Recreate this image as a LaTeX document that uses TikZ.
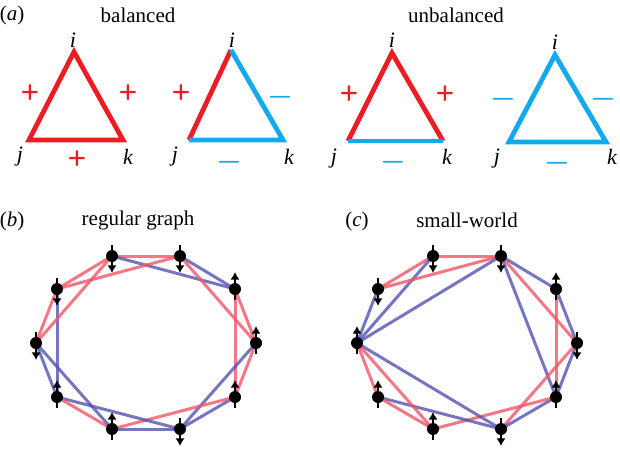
\documentclass[tikz,border=0pt]{standalone}
\usepackage{fontspec}
\setmainfont{Liberation Serif}
\usepackage{tikz}
\usetikzlibrary{arrows.meta, backgrounds}
\definecolor{SignRed}{HTML}{EC1C24}
\definecolor{SignBlue}{HTML}{12A9EE}
\definecolor{LinkRed}{HTML}{F25566}
\definecolor{LinkBlue}{HTML}{5454B0}
\tikzset{
    % Triangle styles
    posside/.style={
        draw=SignRed,
        line width=2.4pt,
        line join=miter
    },
    negside/.style={
        draw=SignBlue,
        line width=2.4pt,
        line join=miter
    },
    vertexlabel/.style={
        inner sep=0pt,
        font=\fontsize{11}{13}\selectfont\itshape
    },
    possign/.style={
        inner sep=0pt,
        text=SignRed,
        font=\fontsize{16.5}{18}\selectfont\bfseries
    },
    negsign/.style={
        inner sep=0pt,
        text=SignBlue,
        font=\fontsize{14}{16}\selectfont\boldmath
    },
    % Titles
    paneltag/.style={
        inner sep=0pt,
        font=\fontsize{10.5}{12}\selectfont
    },
    paneltitle/.style={
        inner sep=0pt,
        font=\fontsize{10.5}{12}\selectfont
    },
    % Graph styles
    spin/.style={
        circle,
        fill=black,
        minimum size=6pt,
        inner sep=0pt
    },
    poslink/.style={
        draw=LinkRed,
        draw opacity=0.8,
        line width=1.5pt
    },
    neglink/.style={
        draw=LinkBlue,
        draw opacity=0.8,
        line width=1.5pt
    },
    spinarrow/.style={
        -{Latex[length=3.8pt,width=4.6pt]},
        line width=1.35pt,
        black
    }
}
\begin{document}
\begin{tikzpicture}[x=0.5pt,y=-0.5pt]
    \useasboundingbox (0,0) rectangle (620,449);

    % Panel (a)
    \node[paneltag] (taga) at (12,15) {(\textit{a})};
    \node[paneltitle] (titlebal) at (138,15) {balanced};
    \node[paneltitle] (titleunbal) at (456,15) {unbalanced};

    % Corners
    \coordinate (Ai) at (74,52);
    \coordinate (Aj) at (29,140);
    \coordinate (Ak) at (123,140);
    \coordinate (Bi) at (231,50);
    \coordinate (Bj) at (189,140);
    \coordinate (Bk) at (283,140);
    \coordinate (Ci) at (392,53);
    \coordinate (Cj) at (348,141);
    \coordinate (Ck) at (443,141);
    \coordinate (Di) at (555,55);
    \coordinate (Dj) at (509,142);
    \coordinate (Dk) at (606,142);

    % Sides
    \draw[posside] (Aj) -- (Ai) -- (Ak) -- cycle;
    \draw[posside] (Bj) -- (Bi);
    \draw[negside] (Bi) -- (Bk) -- (Bj);
    \draw[posside] (Cj) -- (Ci) -- (Ck);
    \draw[negside] (Cj) -- (Ck);
    \draw[negside] (Dj) -- (Di) -- (Dk) -- cycle;

    % Vertex labels
    \node[vertexlabel] (Ali) at (73,40) {i};
    \node[vertexlabel] (Alj) at (20,157) {j};
    \node[vertexlabel] (Alk) at (128,157) {k};
    \node[vertexlabel] (Bli) at (232,40) {i};
    \node[vertexlabel] (Blj) at (175,157) {j};
    \node[vertexlabel] (Blk) at (289,157) {k};
    \node[vertexlabel] (Cli) at (392,40) {i};
    \node[vertexlabel] (Clj) at (334,159) {j};
    \node[vertexlabel] (Clk) at (447,157) {k};
    \node[vertexlabel] (Dli) at (555,42) {i};
    \node[vertexlabel] (Dlj) at (497,159) {j};
    \node[vertexlabel] (Dlk) at (612,157) {k};

    % Signs
    \node[possign] (Aij) at (30,94) {+};
    \node[possign] (Aik) at (128,94) {+};
    \node[possign] (Ajk) at (77,160) {+};
    \node[possign] (Bij) at (181,94) {+};
    \node[negsign] (Bik) at (280,97) {$-$};
    \node[negsign] (Bjk) at (229,162) {$-$};
    \node[possign] (Cij) at (349,95) {+};
    \node[possign] (Cik) at (445,95) {+};
    \node[negsign] (Cjk) at (393,162) {$-$};
    \node[negsign] (Dij) at (503,99) {$-$};
    \node[negsign] (Dik) at (603,99) {$-$};
    \node[negsign] (Djk) at (557,163) {$-$};

    % Panel (b)
    \node[paneltag] (tagb) at (12,221) {(\textit{b})};
    \node[paneltitle] (titlereg) at (138,220) {regular graph};

    \node[spin] (b1) at (112,256) {};
    \node[spin] (b2) at (180,256) {};
    \node[spin] (b3) at (235,289) {};
    \node[spin] (b4) at (256,343) {};
    \node[spin] (b5) at (235,397) {};
    \node[spin] (b6) at (180,429) {};
    \node[spin] (b7) at (112,429) {};
    \node[spin] (b8) at (57,397) {};
    \node[spin] (b9) at (36,343) {};
    \node[spin] (b10) at (57,289) {};

    % Panel (c)
    \node[paneltag] (tagc) at (357,221) {(\textit{c})};
    \node[paneltitle] (titlesw) at (467,220) {small-world};

    \node[spin] (c1) at (433,256) {};
    \node[spin] (c2) at (501,256) {};
    \node[spin] (c3) at (556,289) {};
    \node[spin] (c4) at (577,343) {};
    \node[spin] (c5) at (556,397) {};
    \node[spin] (c6) at (501,429) {};
    \node[spin] (c7) at (433,429) {};
    \node[spin] (c8) at (378,397) {};
    \node[spin] (c9) at (357,343) {};
    \node[spin] (c10) at (378,289) {};

    \begin{scope}[on background layer]
        % Links of (b)
        \draw[poslink] (b1.center) -- (b2.center);
        \draw[neglink] (b1.center) -- (b3.center);
        \draw[neglink] (b2.center) -- (b3.center);
        \draw[poslink] (b2.center) -- (b4.center);
        \draw[poslink] (b3.center) -- (b4.center);
        \draw[poslink] (b3.center) -- (b5.center);
        \draw[poslink] (b4.center) -- (b5.center);
        \draw[neglink] (b4.center) -- (b6.center);
        \draw[neglink] (b5.center) -- (b6.center);
        \draw[poslink] (b5.center) -- (b7.center);
        \draw[neglink] (b6.center) -- (b7.center);
        \draw[neglink] (b6.center) -- (b8.center);
        \draw[poslink] (b7.center) -- (b8.center);
        \draw[neglink] (b7.center) -- (b9.center);
        \draw[neglink] (b8.center) -- (b9.center);
        \draw[neglink] (b8.center) -- (b10.center);
        \draw[poslink] (b9.center) -- (b10.center);
        \draw[poslink] (b9.center) -- (b1.center);
        \draw[poslink] (b10.center) -- (b1.center);
        \draw[poslink] (b10.center) -- (b2.center);

        % Links of (c)
        \draw[poslink] (c1.center) -- (c2.center);
        \draw[poslink] (c1.center) -- (c10.center);
        \draw[neglink] (c1.center) -- (c9.center);
        \draw[poslink] (c2.center) -- (c10.center);
        \draw[neglink] (c2.center) -- (c9.center);
        \draw[neglink] (c2.center) -- (c3.center);
        \draw[poslink] (c2.center) -- (c4.center);
        \draw[neglink] (c2.center) -- (c5.center);
        \draw[neglink] (c3.center) -- (c4.center);
        \draw[poslink] (c3.center) -- (c5.center);
        \draw[neglink] (c4.center) -- (c5.center);
        \draw[poslink] (c4.center) -- (c6.center);
        \draw[neglink] (c5.center) -- (c6.center);
        \draw[poslink] (c5.center) -- (c7.center);
        \draw[neglink] (c6.center) -- (c8.center);
        \draw[neglink] (c6.center) -- (c9.center);
        \draw[poslink] (c7.center) -- (c8.center);
        \draw[poslink] (c7.center) -- (c9.center);
        \draw[poslink] (c8.center) -- (c9.center);
        \draw[neglink] (c9.center) -- (c10.center);

        % Spins of (b)
        \draw[spinarrow] ([yshift=5.5pt]b1.center) -- ([yshift=-8.5pt]b1.center);
        \draw[spinarrow] ([yshift=5.5pt]b2.center) -- ([yshift=-8.5pt]b2.center);
        \draw[spinarrow] ([yshift=-5.5pt]b3.center) -- ([yshift=8.5pt]b3.center);
        \draw[spinarrow] ([yshift=-5.5pt]b4.center) -- ([yshift=8.5pt]b4.center);
        \draw[spinarrow] ([yshift=-5.5pt]b5.center) -- ([yshift=8.5pt]b5.center);
        \draw[spinarrow] ([yshift=5.5pt]b6.center) -- ([yshift=-8.5pt]b6.center);
        \draw[spinarrow] ([yshift=-5.5pt]b7.center) -- ([yshift=8.5pt]b7.center);
        \draw[spinarrow] ([yshift=-5.5pt]b8.center) -- ([yshift=8.5pt]b8.center);
        \draw[spinarrow] ([yshift=5.5pt]b9.center) -- ([yshift=-8.5pt]b9.center);
        \draw[spinarrow] ([yshift=5.5pt]b10.center) -- ([yshift=-8.5pt]b10.center);

        % Spins of (c)
        \draw[spinarrow] ([yshift=5.5pt]c1.center) -- ([yshift=-8.5pt]c1.center);
        \draw[spinarrow] ([yshift=5.5pt]c2.center) -- ([yshift=-8.5pt]c2.center);
        \draw[spinarrow] ([yshift=-5.5pt]c3.center) -- ([yshift=8.5pt]c3.center);
        \draw[spinarrow] ([yshift=5.5pt]c4.center) -- ([yshift=-8.5pt]c4.center);
        \draw[spinarrow] ([yshift=-5.5pt]c5.center) -- ([yshift=8.5pt]c5.center);
        \draw[spinarrow] ([yshift=5.5pt]c6.center) -- ([yshift=-8.5pt]c6.center);
        \draw[spinarrow] ([yshift=-5.5pt]c7.center) -- ([yshift=8.5pt]c7.center);
        \draw[spinarrow] ([yshift=-5.5pt]c8.center) -- ([yshift=8.5pt]c8.center);
        \draw[spinarrow] ([yshift=-5.5pt]c9.center) -- ([yshift=8.5pt]c9.center);
        \draw[spinarrow] ([yshift=5.5pt]c10.center) -- ([yshift=-8.5pt]c10.center);
    \end{scope}
\end{tikzpicture}
\end{document}
